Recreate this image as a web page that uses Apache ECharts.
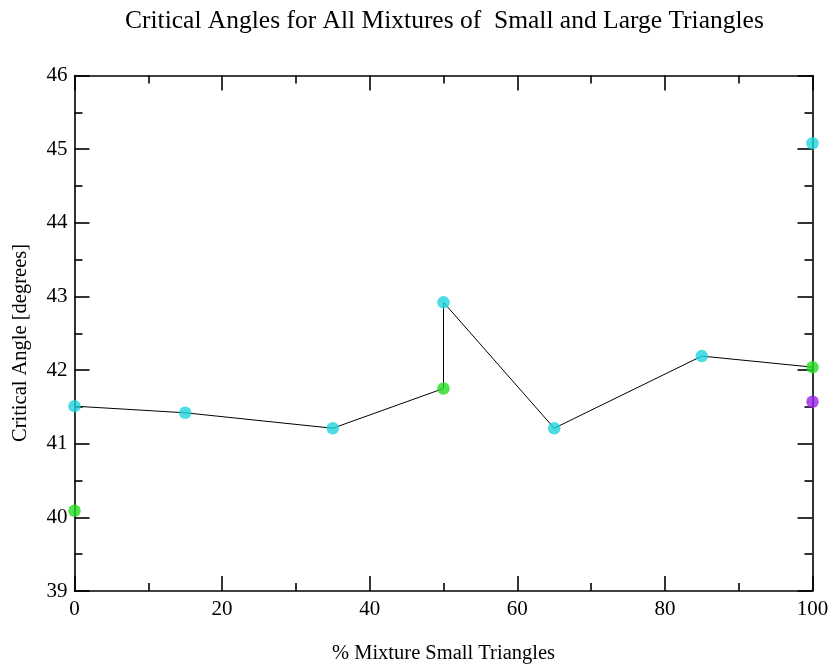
<!DOCTYPE html>
<html>
<head>
<meta charset="utf-8">
<script src="https://cdn.jsdelivr.net/npm/echarts@6/dist/echarts.min.js"></script>
<style>html,body{margin:0;padding:0;background:#fff;}#c{width:831px;height:668px;}</style>
</head>
<body>
<div id="c"></div>
<script>
// Connected path (black line)
const lineX = [0, 15, 35, 50, 50, 65, 85, 100];
const lineY = [41.51, 41.42, 41.21, 41.75, 42.92, 41.21, 42.19, 42.04];
// Cyan points
const cyanX = [0, 15, 35, 50, 65, 85, 100];
const cyanY = [41.51, 41.42, 41.21, 42.92, 41.21, 42.19, 45.08];
// Green points
const greenX = [0, 50, 100];
const greenY = [40.09, 41.75, 42.04];
// Purple points
const purpleX = [100];
const purpleY = [41.57];

const xTicks = [0, 20, 40, 60, 80, 100];
const yTicks = [39, 40, 41, 42, 43, 44, 45, 46];

const titleText = 'Critical Angles for All Mixtures of  Small and Large Triangles';
const xName = '% Mixture Small Triangles';
const yName = 'Critical Angle [degrees]';

const zip = (a, b) => a.map((v, i) => [v, b[i]]);
const font = '"Liberation Serif", "DejaVu Serif", serif';

const chart = echarts.init(document.getElementById('c'), null, {renderer: 'canvas'});

const tickStyle = {color: '#000', width: 1.6};
const baseX = {
  type: 'value', min: 0, max: 100, interval: 20,
  axisLine: {show: true, onZero: false, lineStyle: tickStyle},
  axisTick: {show: true, inside: true, length: 15, lineStyle: tickStyle},
  minorTick: {show: true, splitNumber: 2, length: 8, lineStyle: tickStyle},
  splitLine: {show: false}
};
const baseY = {
  type: 'value', min: 39, max: 46, interval: 1,
  axisLine: {show: true, onZero: false, lineStyle: tickStyle},
  axisTick: {show: true, inside: true, length: 15, lineStyle: tickStyle},
  minorTick: {show: true, splitNumber: 2, length: 8, lineStyle: tickStyle},
  splitLine: {show: false}
};

chart.setOption({
  backgroundColor: '#fff',
  animation: false,
  title: {
    text: titleText,
    left: 120, top: 3,
    textStyle: {fontFamily: font, fontSize: 25.5, fontWeight: 'normal', color: '#000'}
  },
  grid: {left: 74.5, right: 18.5, top: 75.5, bottom: 77, outerBoundsMode: 'none', containLabel: false},
  graphic: [{
    type: 'text', x: 20.5, y: 343, rotation: Math.PI / 2,
    style: {text: yName, fontFamily: font, fontSize: 20.5, fill: '#000', align: 'center', verticalAlign: 'middle'}
  }],
  xAxis: [
    Object.assign({}, baseX, {
      position: 'bottom',
      name: xName, nameLocation: 'middle', nameGap: 52,
      nameTextStyle: {fontFamily: font, fontSize: 20.5, color: '#000'},
      axisLabel: {show: true, fontFamily: font, fontSize: 21, color: '#000', margin: 8,
        formatter: v => xTicks.includes(v) ? String(v) : ''}
    }),
    Object.assign({}, baseX, {position: 'top', axisLabel: {show: false}})
  ],
  yAxis: [
    Object.assign({}, baseY, {
      position: 'left',
      axisLabel: {show: true, fontFamily: font, fontSize: 21, color: '#000', margin: 7,
        padding: [5, 0, 0, 0],
        formatter: v => yTicks.includes(v) ? String(v) : ''}
    }),
    Object.assign({}, baseY, {position: 'right', axisLabel: {show: false}})
  ],
  series: [
    {
      type: 'line', data: zip(lineX, lineY), xAxisIndex: 0, yAxisIndex: 0,
      showSymbol: false, symbol: 'none',
      lineStyle: {color: '#000', width: 1}, clip: false, z: 1
    },
    {
      type: 'scatter', data: zip(cyanX, cyanY), symbolSize: 12.5,
      itemStyle: {color: '#1fd3dd'}, clip: false, z: 3
    },
    {
      type: 'scatter', data: zip(greenX, greenY), symbolSize: 12.5,
      itemStyle: {color: '#22dd22'}, clip: false, z: 3
    },
    {
      type: 'scatter', data: zip(purpleX, purpleY), symbolSize: 12.5,
      itemStyle: {color: '#9a22ec'}, clip: false, z: 3
    }
  ]
});
</script>
</body>
</html>
